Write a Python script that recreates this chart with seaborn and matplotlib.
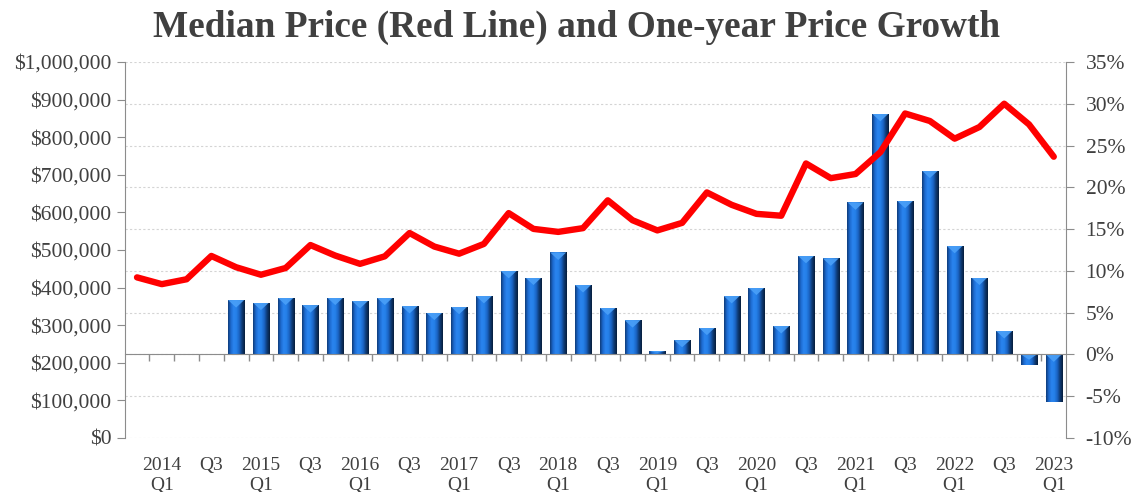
import numpy as np
import pandas as pd
import matplotlib
matplotlib.use("Agg")
import matplotlib.pyplot as plt
from matplotlib.ticker import FuncFormatter, FixedLocator, MultipleLocator
from matplotlib.colors import LinearSegmentedColormap
from matplotlib.patches import Polygon
import seaborn as sns

# Quarters 2013 Q4 .. 2023 Q1
quarters = ["2013 Q4"] + [f"{y} Q{q}" for y in range(2014, 2023) for q in range(1, 5)] + ["2023 Q1"]

# Median price in $ thousands (red line, left axis)
median_price = [427, 409, 422, 484, 454, 434, 452, 513, 485, 463,
                483, 545, 509, 490, 516, 598, 556, 548, 558, 632,
                579, 552, 572, 653, 620, 596, 591, 730, 691, 702,
                760, 863, 843, 796, 827, 889, 834, 748]

# One-year price growth in % (bars, right axis); first four quarters have no prior year
price_growth = [np.nan, np.nan, np.nan, np.nan,
                6.5, 6.2, 6.8, 5.9, 6.8, 6.4, 6.8, 5.8, 5.0, 5.7,
                7.0, 10.0, 9.2, 12.2, 8.3, 5.6, 4.1, 0.4, 1.7, 3.2,
                7.0, 8.0, 3.4, 11.8, 11.5, 18.2, 28.8, 18.4, 22.0, 13.0,
                9.2, 2.8, -1.3, -5.7]

tick_labels = ["2014\nQ1", "Q3", "2015\nQ1", "Q3", "2016\nQ1", "Q3", "2017\nQ1", "Q3",
               "2018\nQ1", "Q3", "2019\nQ1", "Q3", "2020\nQ1", "Q3", "2021\nQ1", "Q3",
               "2022\nQ1", "Q3", "2023\nQ1"]

df = pd.DataFrame({"quarter": quarters,
                   "idx": range(len(quarters)),
                   "price": np.array(median_price) * 1000,
                   "growth": price_growth})

sns.set_style("white")
plt.rcParams["font.family"] = ["Liberation Serif", "DejaVu Serif"]
TXT = "#404040"
AXC = "#8c8c8c"

fig = plt.figure(figsize=(11.33, 4.92), dpi=100)
ax = fig.add_axes([0.110, 0.110, 0.831, 0.764])
ax2 = ax.twinx()

# bars on the right axis (drawn below the line)
bars = df.dropna(subset=["growth"])
sns.barplot(data=bars, x="idx", y="growth", order=list(range(len(quarters))), ax=ax2,
            color="#1f6fd6", saturation=1, width=0.65, errorbar=None, linewidth=0)

# bevel-like shading on each bar
cmap = LinearSegmentedColormap.from_list(
    "bar", ["#0f3c7a", "#1d6ad0", "#2a84ee", "#2580e8", "#1a64c4", "#0e3a74", "#071d3c"])
grad = np.linspace(0, 1, 64).reshape(1, -1)
for p in list(ax2.patches):
    x0, y0, w, h = p.get_x(), p.get_y(), p.get_width(), p.get_height()
    if np.isnan(h) or h == 0:
        continue
    lo, hi = min(y0, y0 + h), max(y0, y0 + h)
    im = ax2.imshow(grad, extent=[x0, x0 + w, lo, hi],
                    aspect="auto", cmap=cmap, zorder=p.get_zorder() + 0.1)
    im.set_clip_path(p)
    cap = min(0.9, (hi - lo) * 0.5)
    tri = Polygon([(x0, hi), (x0 + w, hi), (x0 + w * 0.5, hi - cap)], closed=True,
                  facecolor="#4aa0f8", edgecolor="none", alpha=0.9,
                  zorder=p.get_zorder() + 0.2)
    ax2.add_patch(tri)
    tri.set_clip_path(p)

ax2.set_ylim(-10, 35)
ax2.yaxis.set_major_locator(MultipleLocator(5))
ax2.yaxis.set_major_formatter(FuncFormatter(lambda v, _: f"{v:.0f}%"))
ax2.yaxis.grid(True, color="#d4d4d4", linestyle=(0, (2, 2)), linewidth=0.8)
ax2.set_axisbelow(True)
ax2.set_ylabel("")

# line on the left axis
ax.set_zorder(ax2.get_zorder() + 1)
ax.patch.set_visible(False)
sns.lineplot(data=df, x="idx", y="price", ax=ax, color="#ff0000", linewidth=4.6,
             legend=False, solid_joinstyle="round", solid_capstyle="round")
ax.set_ylim(0, 1_000_000)
ax.yaxis.set_major_locator(MultipleLocator(100_000))
ax.yaxis.set_major_formatter(FuncFormatter(lambda v, _: f"${v:,.0f}"))
ax.set_ylabel("")
ax.set_xlabel("")
ax2.set_xlabel("")

# x axis: labels at the bottom, category ticks on the zero line
ax.set_xlim(-0.5, len(quarters) - 0.5)
ax.set_xticks(range(1, len(quarters), 2))
ax.set_xticklabels(tick_labels)
ax.xaxis.set_minor_locator(FixedLocator(np.arange(0.5, len(quarters) - 1, 1)))
ax.tick_params(axis="x", which="both", length=0, labelsize=14, labelcolor=TXT, pad=14)

ax2.xaxis.set_visible(True)
ax2.spines["bottom"].set_position(("data", 0))
ax2.spines["bottom"].set_color(AXC)
ax2.tick_params(axis="x", which="major", length=0, labelbottom=False)
ax2.tick_params(axis="x", which="minor", length=5, direction="out", color=AXC, width=1,
                bottom=True, labelbottom=False)

for s in ["top", "bottom", "right"]:
    ax.spines[s].set_visible(False)
ax.spines["left"].set_color(AXC)
for s in ["top", "left"]:
    ax2.spines[s].set_visible(False)
ax2.spines["right"].set_color(AXC)

ax.tick_params(axis="y", which="major", length=6, direction="out", color=AXC,
               labelsize=15.5, labelcolor=TXT, left=True)
ax2.tick_params(axis="y", which="major", length=6, direction="out", color=AXC,
                labelsize=15.5, labelcolor=TXT, right=True, pad=8)

fig.text(0.509, 0.945, "Median Price (Red Line) and One-year Price Growth",
         ha="center", va="center", fontsize=26.8, fontweight="bold", color=TXT)

fig.savefig("out.png", dpi=100)
